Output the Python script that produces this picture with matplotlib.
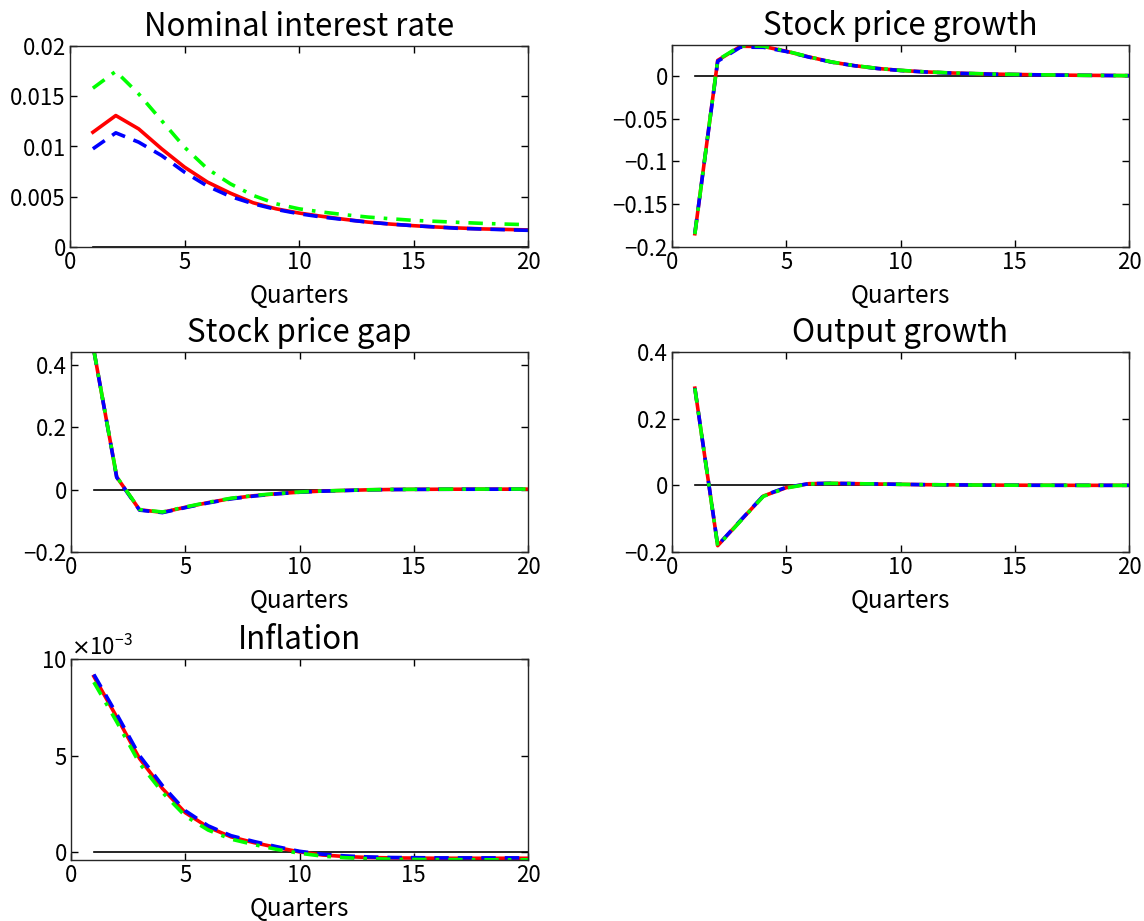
import numpy as np
import matplotlib
matplotlib.use("Agg")
import matplotlib.pyplot as plt
from matplotlib.ticker import ScalarFormatter

plt.rcParams['font.family'] = ['Noto Sans CJK JP', 'DejaVu Sans']

quarters = np.arange(1, 21)

# Nominal interest rate
rate_red = [0.01142, 0.01308, 0.01175, 0.00977, 0.00795, 0.00646, 0.00536, 0.00440, 0.00380, 0.00338,
            0.00305, 0.00275, 0.00248, 0.00228, 0.00212, 0.00199, 0.00189, 0.00180, 0.00175, 0.00170]
rate_blue = [0.00977, 0.01136, 0.01043, 0.00910, 0.00745, 0.00606, 0.00503, 0.00430, 0.00374, 0.00331,
             0.00298, 0.00272, 0.00248, 0.00228, 0.00212, 0.00199, 0.00185, 0.00179, 0.00172, 0.00166]
rate_green = [0.01580, 0.01748, 0.01523, 0.01258, 0.00993, 0.00778, 0.00629, 0.00513, 0.00430, 0.00380,
              0.00348, 0.00321, 0.00298, 0.00281, 0.00265, 0.00255, 0.00245, 0.00235, 0.00228, 0.00222]

# Stock price growth
spg_red = [-0.1845, 0.0180, 0.0345, 0.0343, 0.0287, 0.0220, 0.0160, 0.0118, 0.0086, 0.0063,
           0.0047, 0.0035, 0.0027, 0.0020, 0.0016, 0.0012, 0.0008, 0.0006, 0.0004, 0.0002]
spg_blue = [-0.1840, 0.0170, 0.0335, 0.0333, 0.0284, 0.0218, 0.0159, 0.0117, 0.0085, 0.0062,
            0.0046, 0.0034, 0.0026, 0.0019, 0.0015, 0.0011, 0.0008, 0.0006, 0.0004, 0.0002]
spg_green = [-0.1850, 0.0185, 0.0350, 0.0347, 0.0289, 0.0221, 0.0161, 0.0119, 0.0087, 0.0064,
             0.0048, 0.0036, 0.0028, 0.0021, 0.0016, 0.0012, 0.0009, 0.0006, 0.0004, 0.0002]

# Stock price gap
gap_red = [0.445, 0.040, -0.065, -0.073, -0.057, -0.042, -0.029, -0.020, -0.0136, -0.0084,
           -0.0050, -0.0030, -0.0010, 0.0000, 0.0005, 0.0008, 0.0010, 0.0011, 0.0012, 0.0012]
gap_blue = [0.445, 0.039, -0.066, -0.074, -0.058, -0.043, -0.030, -0.021, -0.0140, -0.0088,
            -0.0053, -0.0032, -0.0012, -0.0002, 0.0003, 0.0006, 0.0008, 0.0009, 0.0010, 0.0010]
gap_green = [0.445, 0.041, -0.064, -0.072, -0.056, -0.041, -0.028, -0.019, -0.0130, -0.0080,
             -0.0047, -0.0027, -0.0008, 0.0002, 0.0007, 0.0010, 0.0012, 0.0013, 0.0014, 0.0014]

# Output growth
out_red = [0.2915, -0.181, -0.106, -0.032, -0.007, 0.005, 0.006, 0.005, 0.004, 0.003,
           0.002, 0.0015, 0.001, 0.0007, 0.0004, 0.0002, 0.0001, 0.0, 0.0, 0.0]
out_blue = [0.2920, -0.180, -0.105, -0.031, -0.006, 0.005, 0.006, 0.005, 0.004, 0.003,
            0.002, 0.0015, 0.001, 0.0007, 0.0004, 0.0002, 0.0001, 0.0, 0.0, 0.0]
out_green = [0.2910, -0.182, -0.107, -0.033, -0.008, 0.004, 0.006, 0.005, 0.004, 0.003,
             0.002, 0.0015, 0.001, 0.0007, 0.0004, 0.0002, 0.0001, 0.0, 0.0, 0.0]

# Inflation
infl_red = [9.10e-3, 7.00e-3, 4.85e-3, 3.30e-3, 2.05e-3, 1.30e-3, 0.80e-3, 0.50e-3, 0.25e-3, 0.02e-3,
            -0.14e-3, -0.22e-3, -0.27e-3, -0.29e-3, -0.30e-3, -0.31e-3, -0.31e-3, -0.31e-3, -0.31e-3, -0.31e-3]
infl_blue = [9.20e-3, 7.15e-3, 5.00e-3, 3.45e-3, 2.15e-3, 1.37e-3, 0.86e-3, 0.56e-3, 0.29e-3, 0.05e-3,
             -0.10e-3, -0.19e-3, -0.24e-3, -0.27e-3, -0.28e-3, -0.29e-3, -0.29e-3, -0.29e-3, -0.29e-3, -0.29e-3]
infl_green = [8.80e-3, 6.75e-3, 4.60e-3, 3.10e-3, 1.88e-3, 1.15e-3, 0.68e-3, 0.40e-3, 0.15e-3, -0.05e-3,
              -0.20e-3, -0.28e-3, -0.33e-3, -0.36e-3, -0.37e-3, -0.38e-3, -0.38e-3, -0.39e-3, -0.39e-3, -0.39e-3]

titles = ["Nominal interest rate", "Stock price growth", "Stock price gap", "Output growth", "Inflation"]
series = [(rate_red, rate_blue, rate_green), (spg_red, spg_blue, spg_green),
          (gap_red, gap_blue, gap_green), (out_red, out_blue, out_green),
          (infl_red, infl_blue, infl_green)]
ylims = [(0, 0.02), (-0.2, 0.036), (-0.2, 0.44), (-0.2, 0.4), (-0.4e-3, 10e-3)]
yticks = [[0, 0.005, 0.01, 0.015, 0.02], [-0.2, -0.15, -0.1, -0.05, 0],
          [-0.2, 0, 0.2, 0.4], [-0.2, 0, 0.2, 0.4], [0, 5e-3, 10e-3]]
ytlabels = [["0", "0.005", "0.01", "0.015", "0.02"],
            ["\u22120.2", "\u22120.15", "\u22120.1", "\u22120.05", "0"],
            ["\u22120.2", "0", "0.2", "0.4"], ["\u22120.2", "0", "0.2", "0.4"], None]

# axes rectangles in pixels (left, top, right, bottom)
W, H = 1144, 921
boxes_px = [(70, 46, 528, 247), (672, 45, 1129, 247),
            (71, 352, 528, 552), (672, 352, 1129, 552),
            (71, 659, 528, 860)]

fig = plt.figure(figsize=(W / 100, H / 100), dpi=100)

for i in range(5):
    l, t, r, b = boxes_px[i]
    ax = fig.add_axes([l / W, 1 - b / H, (r - l) / W, (b - t) / H])
    red, blue, green = series[i]
    ax.plot([1, 20], [0, 0], color="black", lw=1.2)
    ax.plot(quarters, red, color=(1, 0, 0), lw=2.6, ls="-")
    ax.plot(quarters, blue, color=(0, 0, 1), lw=2.6, ls=(0, (4, 2.5)))
    ax.plot(quarters, green, color=(0, 1, 0), lw=2.6, ls=(0, (4, 2.5, 1, 2.5)))
    ax.set_xlim(0, 20)
    ax.set_ylim(*ylims[i])
    ax.set_xticks([0, 5, 10, 15, 20])
    ax.set_yticks(yticks[i])
    if ytlabels[i] is not None:
        ax.set_yticklabels(ytlabels[i])
    else:
        fmt = ScalarFormatter(useMathText=True)
        fmt.set_powerlimits((-3, -3))
        ax.yaxis.set_major_formatter(fmt)
        ax.yaxis.get_offset_text().set_fontsize(16)
    ax.tick_params(direction="in", top=True, right=True, labelsize=16, length=5, width=1, pad=3)
    for s in ax.spines.values():
        s.set_linewidth(1.0)
        s.set_color("#262626")
    ax.set_xlabel("Quarters", fontsize=17.5, labelpad=6)
    ax.set_title(titles[i], fontsize=22.5, pad=7.5)

fig.savefig("out.png", dpi=100)
